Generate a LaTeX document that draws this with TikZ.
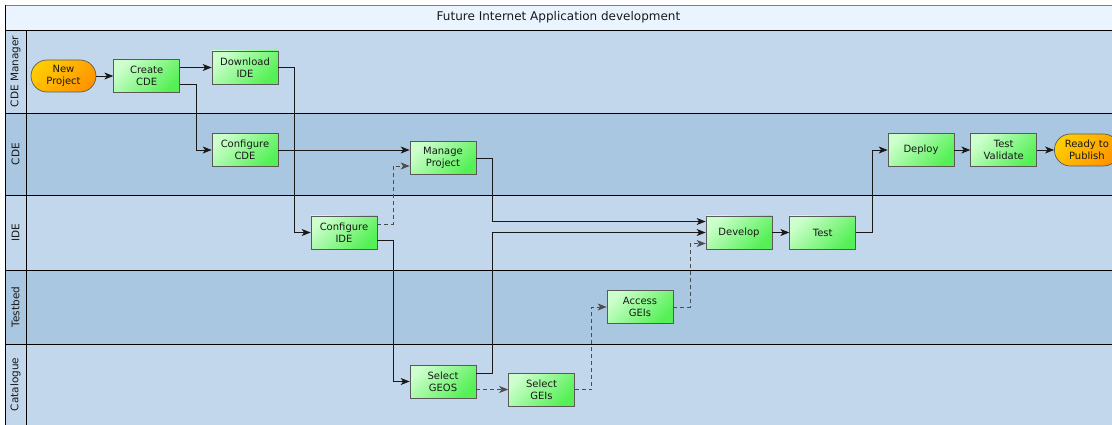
\documentclass[tikz,border=0pt]{standalone}
\usepackage{fontspec}
\setmainfont{DejaVu Sans}
\usepackage{tikz}
\usetikzlibrary{arrows.meta, shapes, positioning}

\definecolor{titleband}{HTML}{EAF4FF}
\definecolor{lanelight}{HTML}{C2D7EB}
\definecolor{lanedark}{HTML}{AAC7E2}
\definecolor{taskpale}{HTML}{CCFFCC}
\definecolor{taskgreen}{HTML}{55F055}
\definecolor{eventpale}{HTML}{FFCC00}
\definecolor{eventorange}{HTML}{FF9500}

\begin{document}
\begin{tikzpicture}[x=1pt,y=-1pt,->,>={Stealth[length=9pt,width=7pt,inset=2.5pt]},line width=0.8pt,
    font=\fontsize{10}{12}\selectfont,text=black!90]
				\tikzstyle{task} = [rectangle, draw=black!65, line width=0.7pt, minimum width=66pt, minimum height=33pt,
				                    inner sep=1pt, align=center, top color=taskpale, bottom color=taskgreen, shading angle=45]
				\tikzstyle{event} = [task, minimum width=65pt, minimum height=32pt, rounded corners=16pt,
				                     top color=eventpale, bottom color=eventorange, shading angle=45]
				\tikzstyle{flow} = [black!90]
				\tikzstyle{optional} = [black!70, dash pattern=on 4pt off 3pt]

				\useasboundingbox (0,0) rectangle (1112,425);

				% pool, title band and lanes
				\fill[titleband] (5.5,5.5) rectangle (1130,30);
				\node[font=\fontsize{12}{14}\selectfont] (title) at (558.5,17.5) {Future Internet Application development};
				\foreach \top/\bot/\name/\col [count=\i] in {30/113/CDE Manager/lanelight, 113/195/CDE/lanedark,
				    195/270/IDE/lanelight, 270/344/Testbed/lanedark, 344/425/Catalogue/lanelight} {
					\fill[\col] (5.5,\top) rectangle (1130,\bot);
					\draw[-] (5.5,\top) -- (1130,\top);
					\node[rotate=90, font=\fontsize{10.5}{12}\selectfont] (lane\i) at (15.5,{(\top+\bot)/2}) {\name};
				}
				\draw[-, black!50] (5.5,5.5) -- (1130,5.5);
				\draw[-] (5.5,5.5) -- (5.5,440) (26,30) -- (26,440);

				\node[event] (newproject) at (63.5,76) {New\\Project};
				\node[task] (create) [right=17pt of newproject] {Create\\CDE};
				\node[task] (download) at (245,67.5) {Download\\IDE};
				\node[task] (configcde) at (245,150) {Configure\\CDE};
				\node[task] (configide) at (344,232.5) {Configure\\IDE};
				\node[task] (manage) at (443,158) {Manage\\Project};
				\node[task] (selectgeos) at (443,381.5) {Select\\GEOS};
				\node[task] (selectgeis) at (541.5,389.5) {Select\\GEIs};
				\node[task] (access) at (640,307) {Access\\GEIs};
				\node[task] (develop) at (739,232.5) {Develop};
				\node[task] (test) [right=17pt of develop] {Test};
				\node[task] (deploy) at (921,150) {Deploy};
				\node[task] (validate) [right=16pt of deploy] {Test\\Validate};
				\node[event] (ready) [right=17pt of validate] {Ready to\\Publish};

				\draw[flow] (newproject) -- (create);
				\draw[flow] ([yshift=8.5pt]create.east) -- (download.west);
				\draw[flow] ([yshift=-8pt]create.east) -- ++(16,0) |- (configcde.west);
				\draw[flow] (download.east) -- ++(16,0) |- (configide.west);
				\draw[flow] (configcde.east) -- ([yshift=8pt]manage.west);
				\draw[optional] ([yshift=8pt]configide.east) -- ++(16,0) |- ([yshift=-8pt]manage.west);
				\draw[flow] ([yshift=-8pt]configide.east) -- ++(16,0) |- (selectgeos.west);
				\draw[flow] (manage.east) -- ++(16,0) |- ([yshift=11pt]develop.west);
				\draw[flow] ([yshift=8pt]selectgeos.east) -- ++(16,0) |- (develop.west);
				\draw[optional] ([yshift=-8pt]selectgeos.east) -- (selectgeis.west);
				\draw[optional] (selectgeis.east) -- ++(17,0) |- (access.west);
				\draw[optional] (access.east) -- ++(17,0) |- ([yshift=-11pt]develop.west);
				\draw[flow] (develop) -- (test);
				\draw[flow] (test.east) -- ++(16,0) |- (deploy.west);
				\draw[flow] (deploy) -- (validate);
				\draw[flow] (validate) -- (ready);
			\end{tikzpicture}
\end{document}
